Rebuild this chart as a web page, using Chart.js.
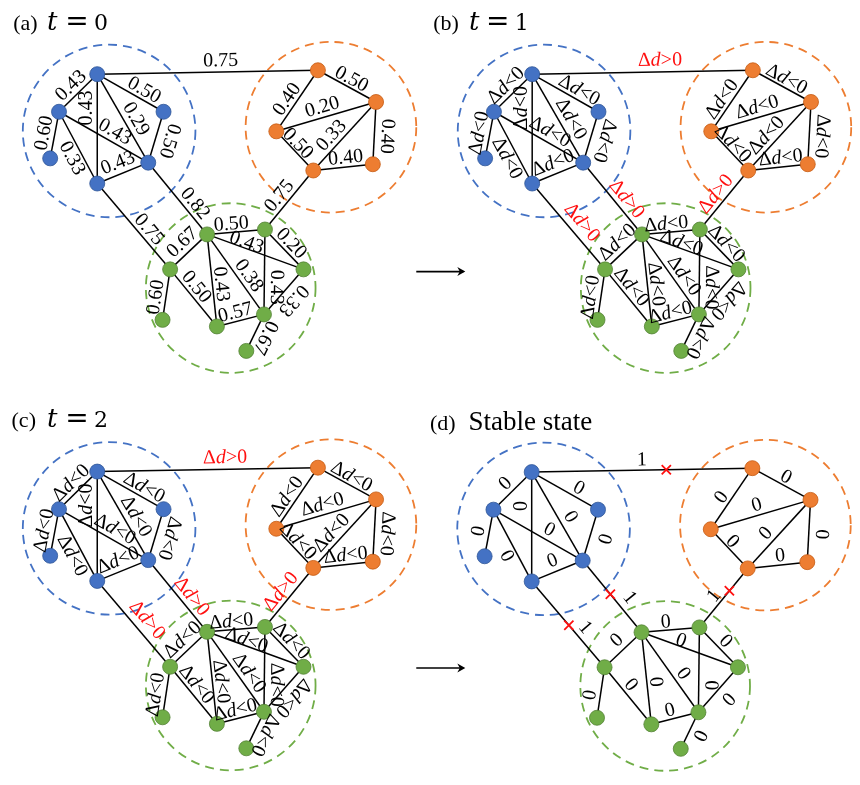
<!DOCTYPE html>
<html>
<head>
<meta charset="utf-8">
<script src="https://cdn.jsdelivr.net/npm/chart.js@4.4.1/dist/chart.umd.min.js"></script>
<style>
  html, body { margin: 0; padding: 0; background: #ffffff; }
  canvas { display: block; }
</style>
</head>
<body>
<canvas id="net" width="860" height="785"></canvas>
<script>
// ---- network: nodes (layout coordinates of one snapshot) ----
const nodeIds    = ['B1','B2','B3','B4','B5','B6','O1','O2','O3','O4','O5','G1','G2','G3','G4','G5','G6','G7','G8'];
const nodeX      = [90.7, 51.7, 158.3, 42.7, 142.7, 90.7, 315.7, 375.0, 273.3, 311.0, 371.7, 202.7, 261.7, 165.0, 301.0, 157.3, 212.7, 260.7, 242.7];
const nodeY      = [67.3, 105.7, 105.7, 153.3, 157.7, 179.0, 63.3, 95.7, 125.7, 165.7, 159.3, 231.0, 226.0, 266.7, 266.7, 318.3, 325.0, 312.7, 350.0];
const nodeGroup  = ['blue','blue','blue','blue','blue','blue','orange','orange','orange','orange','orange','green','green','green','green','green','green','green','green'];

// ---- edges (label is read from the first node towards the second) ----
const edgeFrom = ['B2','B6','B1','B1','B2','B6','B3','B4','B2','B1','B5','B6','G2','O3','O1','O3','O3','O4','O2','O4','G1','G1','G2','G3','G5','G3','G1','G1','G2','G4','G6','G7'];
const edgeTo   = ['B1','B1','B3','B5','B5','B5','B5','B2','B6','O1','G1','G3','O4','O1','O2','O2','O4','O2','O5','O5','G2','G4','G4','G1','G3','G6','G6','G7','G7','G7','G7','G8'];

// t = 0 : edge weights
const weightT0 = ['0.43','0.43','0.50','0.29','0.43','0.43','0.50','0.60','0.33','0.75','0.82','0.75','0.75','0.40','0.50','0.20','0.50','0.33','0.40','0.40','0.50','0.43','0.20','0.67','0.60','0.50','0.43','0.38','0.43','0.33','0.57','0.67'];
// t = 1 and t = 2 : sign of the change of each edge
const deltaT1  = ['<','<','<','<','<','<','<','<','<','>','>','>','>','<','<','<','<','<','<','<','<','<','<','<','<','<','<','<','<','<','<','<'];
const deltaT2  = ['<','<','<','<','<','<','<','<','<','>','>','>','>','<','<','<','<','<','<','<','<','<','<','<','<','<','<','<','<','<','<','<'];
// stable state values (1 = edge removed)
const stableValue = ['0','0','0','0','0','0','0','0','0','1','1','1','1','0','0','0','0','0','0','0','0','0','0','0','0','0','0','0','0','0','0','0'];

const panelTags  = ['(a)', '(b)', '(c)', '(d)'];
const panelTimes = ['0', '1', '2', ''];
const stableTitle = 'Stable state';

// ---- layout ----
const panelShift = [[0, 0], [443.5, 0], [0, 406], [443, 406.5]];
const labelT    = [0.50,0.69,0.64,0.57,0.57,0.49,0.49,0.50,0.58,0.56,0.66,0.61,0.46,0.44,0.51,0.49,0.44,0.41,0.54,0.56,0.43,0.39,0.51,0.54,0.42,0.41,0.55,0.59,0.68,0.50,0.44,0.50];
const labelSide = [1.0,1.0,0.9,1.1,1.0,1.1,1.4,1.05,-1.05,1.1,1.0,0.95,1.0,0.9,0.8,1.0,0.7,1.0,1.25,0.9,0.8,0.55,0.9,1.1,1.0,0.9,0.85,1.0,1.2,1.3,0.85,1.1];
// bridge edges use their own placement in the later snapshots
const bridgeIdx      = [9, 10, 11, 12];
const deltaBridgeT   = [0.58, 0.60, 0.55, 0.49];
const deltaBridgeS   = [1.15, 1.03, 1.25, 1.0];
const stableBridgeT  = [0.50, 0.63, 0.62, 0.44];
const stableBridgeS  = [1.0, 1.27, 1.07, 0.85];
const cutT           = [0.61, 0.47, 0.51, 0.62];

const groupColor  = { blue: '#4472C4', orange: '#ED7D31', green: '#70AD47' };
const groupBorder = { blue: '#2F5597', orange: '#C55A11', green: '#538135' };
const communityRing = [
  { group: 'blue',   cx: 102.8, cy: 125.3, r: 88 },
  { group: 'orange', cx: 329.0, cy: 121.5, r: 87 },
  { group: 'green',  cx: 226.8, cy: 285.8, r: 86.5 }
];

const SERIF = '"Liberation Serif", "Times New Roman", serif';
const LABEL_PX = 20;
const LABEL_GAP = 10;

const nIdx = id => nodeIds.indexOf(id);

// ---- datasets ----
const datasets = [];

// edges
panelShift.forEach(([dx, dy]) => {
  edgeFrom.forEach((f, i) => {
    const a = nIdx(f), b = nIdx(edgeTo[i]);
    datasets.push({
      data: [{ x: nodeX[a] + dx, y: nodeY[a] + dy }, { x: nodeX[b] + dx, y: nodeY[b] + dy }],
      showLine: true,
      borderColor: '#000000',
      borderWidth: 1.5,
      pointRadius: 0,
      order: 5
    });
  });
});

// nodes, one dataset per community
['blue', 'orange', 'green'].forEach(g => {
  const pts = [];
  panelShift.forEach(([dx, dy]) => {
    nodeIds.forEach((id, k) => {
      if (nodeGroup[k] === g) pts.push({ x: nodeX[k] + dx, y: nodeY[k] + dy });
    });
  });
  datasets.push({
    data: pts,
    pointRadius: 7.5,
    pointHoverRadius: 7.5,
    backgroundColor: groupColor[g],
    borderColor: groupBorder[g],
    borderWidth: 0.8,
    order: 1
  });
});

// removed bridges in the stable state
const cutPts = [];
bridgeIdx.forEach((e, j) => {
  if (stableValue[e] !== '1') return;
  const a = nIdx(edgeFrom[e]), b = nIdx(edgeTo[e]);
  const [dx, dy] = panelShift[3];
  const t = cutT[j];
  cutPts.push({ x: nodeX[a] + t * (nodeX[b] - nodeX[a]) + dx, y: nodeY[a] + t * (nodeY[b] - nodeY[a]) + dy });
});
datasets.push({
  data: cutPts,
  pointStyle: 'crossRot',
  pointRadius: 6.5,
  pointHoverRadius: 6.5,
  borderColor: '#FF1010',
  borderWidth: 1.8,
  order: 0
});

// ---- drawing helpers ----
function px(chart, x, y) {
  return [chart.scales.x.getPixelForValue(x), chart.scales.y.getPixelForValue(y)];
}

function drawParts(ctx, parts, x, y, angle, color) {
  ctx.save();
  ctx.translate(x, y);
  ctx.rotate(angle);
  ctx.fillStyle = color;
  ctx.textBaseline = 'middle';
  ctx.textAlign = 'left';
  let w = 0;
  parts.forEach(p => { ctx.font = p.font; p.w = ctx.measureText(p.text).width; w += p.w; });
  let cx = -w / 2;
  parts.forEach(p => { ctx.font = p.font; ctx.fillText(p.text, cx, 0); cx += p.w; });
  ctx.restore();
}

function labelParts(panel, i) {
  const up = LABEL_PX + 'px ' + SERIF;
  const it = 'italic ' + LABEL_PX + 'px ' + SERIF;
  if (panel === 0) return { parts: [{ text: weightT0[i], font: up }], color: '#000' };
  if (panel === 3) return { parts: [{ text: stableValue[i], font: up }], color: '#000' };
  const sign = panel === 1 ? deltaT1[i] : deltaT2[i];
  return {
    parts: [{ text: '\u0394', font: up }, { text: 'd', font: it }, { text: sign + '0', font: up }],
    color: sign === '>' ? '#FF1010' : '#000'
  };
}

const networkDecor = {
  id: 'networkDecor',
  beforeDatasetsDraw(chart) {
    const ctx = chart.ctx;
    ctx.save();
    ctx.lineWidth = 1.8;
    ctx.setLineDash([9, 6]);
    panelShift.forEach(([dx, dy]) => {
      communityRing.forEach(ring => {
        const [cx, cy] = px(chart, ring.cx + dx, ring.cy + dy);
        const r = Math.abs(chart.scales.x.getPixelForValue(ring.cx + dx + ring.r) - cx);
        ctx.strokeStyle = groupColor[ring.group];
        ctx.beginPath();
        ctx.arc(cx, cy, r, 0, Math.PI * 2);
        ctx.stroke();
      });
    });
    ctx.restore();
  },
  afterDatasetsDraw(chart) {
    const ctx = chart.ctx;

    // edge labels
    panelShift.forEach(([dx, dy], p) => {
      edgeFrom.forEach((f, i) => {
        const a = nIdx(f), b = nIdx(edgeTo[i]);
        const [ax, ay] = px(chart, nodeX[a] + dx, nodeY[a] + dy);
        const [bx, by] = px(chart, nodeX[b] + dx, nodeY[b] + dy);
        const ang = Math.atan2(by - ay, bx - ax);
        let t = labelT[i], s = labelSide[i];
        const bj = bridgeIdx.indexOf(i);
        if (bj >= 0 && (p === 1 || p === 2)) { t = deltaBridgeT[bj]; s = deltaBridgeS[bj]; }
        if (bj >= 0 && p === 3) { t = stableBridgeT[bj]; s = stableBridgeS[bj]; }
        const bxp = ax + t * (bx - ax), byp = ay + t * (by - ay);
        const nx = Math.sin(ang), ny = -Math.cos(ang);
        const lx = bxp + s * LABEL_GAP * nx, ly = byp + s * LABEL_GAP * ny;
        const lab = labelParts(p, i);
        drawParts(ctx, lab.parts, lx, ly, ang, lab.color);
      });
    });

    // panel titles
    ctx.save();
    ctx.fillStyle = '#000';
    ctx.textBaseline = 'alphabetic';
    const titleRows = [
      { tag: 3.5 + 1.5, base: 22, t: 44.7, eq: 70, num: 94.5 },
      { tag: 433.3, base: 22, t: 475, eq: 499, num: 523.5 },
      { tag: 3.3, base: 428, t: 44.7, eq: 70, num: 94.5 },
      { tag: 430, base: 431, text: 469.3 }
    ];
    titleRows.forEach((r, p) => {
      const [tx, ty] = px(chart, r.tag, r.base);
      ctx.textAlign = 'left';
      ctx.font = '22px ' + SERIF;
      ctx.fillText(panelTags[p], tx, ty);
      if (panelTimes[p] !== '') {
        ctx.textAlign = 'center';
        ctx.font = 'italic 26px "DejaVu Serif", serif';
        ctx.fillText('t', px(chart, r.t, 0)[0], ty);
        ctx.font = '28px "DejaVu Sans", sans-serif';
        ctx.fillText('=', px(chart, r.eq, 0)[0], ty);
        ctx.font = '22px "DejaVu Serif", serif';
        ctx.fillText(panelTimes[p], px(chart, r.num, 0)[0], ty);
      } else {
        ctx.textAlign = 'left';
        ctx.font = '27px ' + SERIF;
        ctx.fillText(stableTitle, px(chart, r.text, 0)[0], ty);
      }
    });
    ctx.restore();

    // arrows between snapshots
    ctx.save();
    ctx.strokeStyle = '#000';
    ctx.fillStyle = '#000';
    ctx.lineWidth = 1.6;
    [[416, 466, 269], [416, 466, 674]].forEach(([x1, x2, y]) => {
      const [sx, sy] = px(chart, x1, y);
      const [ex] = px(chart, x2, y);
      ctx.beginPath();
      ctx.moveTo(sx, sy);
      ctx.lineTo(ex - 2, sy);
      ctx.stroke();
      ctx.beginPath();
      ctx.moveTo(ex, sy);
      ctx.lineTo(ex - 8, sy - 4.5);
      ctx.lineTo(ex - 5.5, sy);
      ctx.lineTo(ex - 8, sy + 4.5);
      ctx.closePath();
      ctx.fill();
    });
    ctx.restore();
  }
};

new Chart(document.getElementById('net'), {
  type: 'scatter',
  data: { datasets },
  options: {
    responsive: false,
    animation: false,
    devicePixelRatio: 1,
    events: [],
    layout: { padding: 0 },
    scales: {
      x: { type: 'linear', min: 0, max: 860, display: false },
      y: { type: 'linear', min: 0, max: 785, reverse: true, display: false }
    },
    plugins: {
      legend: { display: false },
      tooltip: { enabled: false }
    }
  },
  plugins: [networkDecor]
});
</script>
</body>
</html>
